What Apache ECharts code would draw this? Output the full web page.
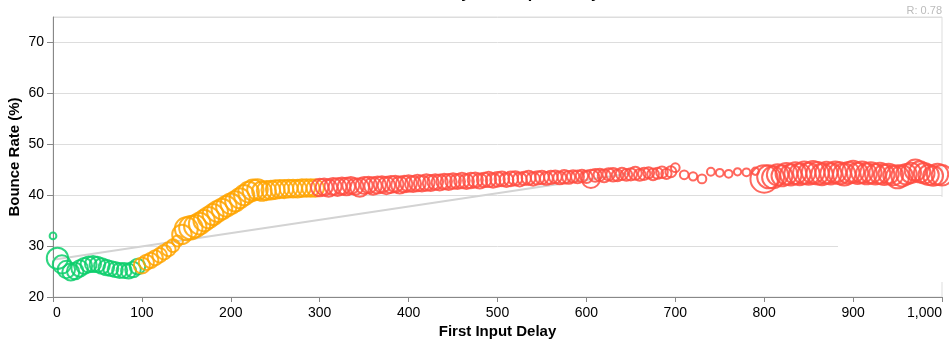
<!DOCTYPE html>
<html>
<head>
<meta charset="utf-8">
<script src="https://cdn.jsdelivr.net/npm/echarts@6/dist/echarts.min.js"></script>
<style>
html,body{margin:0;padding:0;background:#fff;}
#chart{width:949px;height:341px;}
</style>
</head>
<body>
<div id="chart"></div>
<script>
// First Input Delay buckets (ms)
const fid = [
  0,5,10,15,20,25,30,35,40,45,50,55,60,65,70,75,80,85,90,95,
  100,105,110,115,120,125,130,135,140,145,150,155,160,165,170,175,180,185,190,195,
  200,205,210,215,220,225,230,235,240,245,250,255,260,265,270,275,280,285,290,295,
  300,305,310,315,320,325,330,335,340,345,350,355,360,365,370,375,380,385,390,395,
  400,405,410,415,420,425,430,435,440,445,450,455,460,465,470,475,480,485,490,495,
  500,505,510,515,520,525,530,535,540,545,550,555,560,565,570,575,580,585,590,595,
  600,605,610,615,620,625,630,635,640,645,650,655,660,665,670,675,680,685,690,695,
  700,710,720,730,740,750,760,770,780,790,
  800,805,810,815,820,825,830,835,840,845,850,855,860,865,870,875,880,885,890,895,
  900,905,910,915,920,925,930,935,940,945,950,955,960,965,970,975,980,985,990,995,
  1000
];
// Bounce rate (%) per bucket
const bounceRate = [
  32.0,27.6,26.4,25.4,24.9,25.1,25.6,26.1,26.4,26.5,26.4,26.1,25.8,25.6,25.4,25.2,25.2,25.1,25.4,26.0,
  26.2,26.8,27.2,27.7,28.2,28.8,29.4,30.1,31.0,32.3,33.4,33.6,33.9,34.4,35.0,35.6,36.2,36.8,37.3,37.8,
  38.3,38.8,39.4,40.0,40.6,41.0,41.1,40.8,40.9,41.0,41.1,41.2,41.2,41.3,41.3,41.3,41.4,41.4,41.4,41.4,
  41.5,41.6,41.4,41.7,41.6,41.8,41.7,41.9,41.7,41.5,41.9,42.0,41.8,42.0,42.1,41.9,42.1,42.2,42.0,42.2,
  42.3,42.2,42.4,42.3,42.5,42.4,42.6,42.5,42.7,42.6,42.8,42.7,42.9,42.7,42.9,43.0,42.8,43.0,43.1,42.9,
  43.1,43.2,43.0,43.2,43.3,43.1,43.3,43.4,43.2,43.4,43.5,43.3,43.5,43.6,43.4,43.6,43.5,43.7,43.6,43.8,
  43.6,43.2,43.9,44.0,43.8,44.1,44.0,43.9,44.2,44.0,44.1,44.3,44.0,44.2,44.4,44.1,44.3,44.5,44.2,44.6,
  45.4,44.0,43.7,43.2,44.6,44.4,44.2,44.6,44.5,44.7,
  43.2,43.6,43.5,44.0,43.8,44.2,44.0,44.3,44.1,44.4,44.2,44.5,44.3,44.1,44.4,44.2,44.5,44.3,44.1,44.4,
  44.6,44.3,44.5,44.2,44.4,44.1,44.3,44.0,44.2,43.9,43.6,43.8,44.1,44.4,44.9,44.6,44.3,44.0,43.8,44.1,
  43.9
];
// Relative session volume per bucket (drives bubble area)
const sessions = [
  6,60,44,40,38,36,36,34,34,34,32,32,32,30,30,30,30,30,32,32,
  34,30,30,30,28,28,26,22,16,50,70,72,66,62,60,60,58,58,56,56,
  56,54,54,54,56,58,56,50,48,46,46,44,44,42,42,42,42,40,40,40,
  40,38,40,38,42,38,40,38,36,46,38,36,40,38,36,40,38,36,38,36,
  36,34,36,34,36,34,32,34,32,34,32,30,32,30,32,30,30,28,30,28,
  28,28,26,28,26,26,24,26,24,24,24,22,24,22,22,24,22,20,22,20,
  20,44,22,20,22,20,24,18,20,18,20,22,18,20,16,18,16,18,14,16,
  10,10,9,10,8,8,8,7,8,7,
  100,70,64,60,58,62,60,64,62,66,64,68,66,62,64,60,62,64,66,62,
  64,60,62,58,60,56,58,56,54,52,70,60,56,54,60,58,56,54,52,60,
  56
];
// Trend line endpoints
const trendFid = [0, 650];
const trendRate = [27.3, 44.3];
const correlationLabel = 'R: 0.78';
const titleText = 'Bounce Rate by First Input Delay';

const good = [], mid = [], poor = [];
for (let i = 0; i < fid.length; i++) {
  const p = [fid[i], bounceRate[i], sessions[i]];
  if (fid[i] < 100) good.push(p);
  else if (fid[i] < 300) mid.push(p);
  else poor.push(p);
}
const trend = trendFid.map((x, i) => [x, trendRate[i]]);

const font = '"Liberation Sans", Arial, Helvetica, sans-serif';
function bubble(name, data, color) {
  return {
    name, type: 'scatter', data,
    symbolSize: v => 2.75 * Math.sqrt(v[2]),
    itemStyle: { color: 'rgba(0,0,0,0)', borderColor: color, borderWidth: 2, opacity: 0.85 },
    emphasis: { disabled: true },
    z: 3
  };
}

const chart = echarts.init(document.getElementById('chart'), null, { renderer: 'canvas' });
chart.setOption({
  animation: false,
  title: {
    text: titleText, left: 'center', top: -19,
    textStyle: { fontFamily: font, fontSize: 16, fontWeight: 'bold', color: '#000' }
  },
  grid: { left: 53, right: 7, top: 17, bottom: 44, outerBoundsMode: 'none', containLabel: false,
          show: true, borderColor: '#ddd', borderWidth: 1, backgroundColor: 'transparent' },
  xAxis: {
    type: 'value', min: 0, max: 1000, interval: 100,
    name: 'First Input Delay', nameLocation: 'middle', nameGap: 27, nameMoveOverlap: false,
    nameTextStyle: { fontFamily: font, fontSize: 15, fontWeight: 'bold', color: '#000' },
    axisLine: { show: true, lineStyle: { color: '#888', width: 1 } },
    axisTick: { show: true, length: 5, lineStyle: { color: '#888' } },
    splitLine: { show: false },
    axisLabel: {
      fontFamily: font, fontSize: 14, color: '#000', margin: 9,
      alignMinLabel: 'left', alignMaxLabel: 'right',
      formatter: v => v.toLocaleString('en-US')
    }
  },
  yAxis: {
    type: 'value', min: 20, max: 75, interval: 10,
    name: 'Bounce Rate (%)', nameLocation: 'middle', nameGap: 31, nameRotate: 90, nameMoveOverlap: false,
    nameTextStyle: { fontFamily: font, fontSize: 15, fontWeight: 'bold', color: '#000' },
    axisLine: { show: true, lineStyle: { color: '#888', width: 1 } },
    axisTick: { show: true, length: 6, lineStyle: { color: '#888' } },
    splitLine: { show: true, lineStyle: { color: '#ddd', width: 1 } },
    axisLabel: { fontFamily: font, fontSize: 14, color: '#000', margin: 9, showMaxLabel: false }
  },
  graphic: [
    { type: 'rect', left: 838, top: 197, shape: { width: 111, height: 85 }, style: { fill: '#fff' }, z: 50, silent: true },
    { type: 'text', right: 7, top: 5, style: { text: correlationLabel, fill: '#bbb', font: '11px ' + font }, z: 60 }
  ],
  series: [
    {
      name: 'trend', type: 'line', data: trend, symbol: 'none', silent: true,
      lineStyle: { color: '#d3d3d3', width: 2 }, z: 2
    },
    bubble('good', good, '#0cce6b'),
    bubble('needs improvement', mid, '#ffa400'),
    bubble('poor', poor, '#ff4e42')
  ]
});
</script>
</body>
</html>
